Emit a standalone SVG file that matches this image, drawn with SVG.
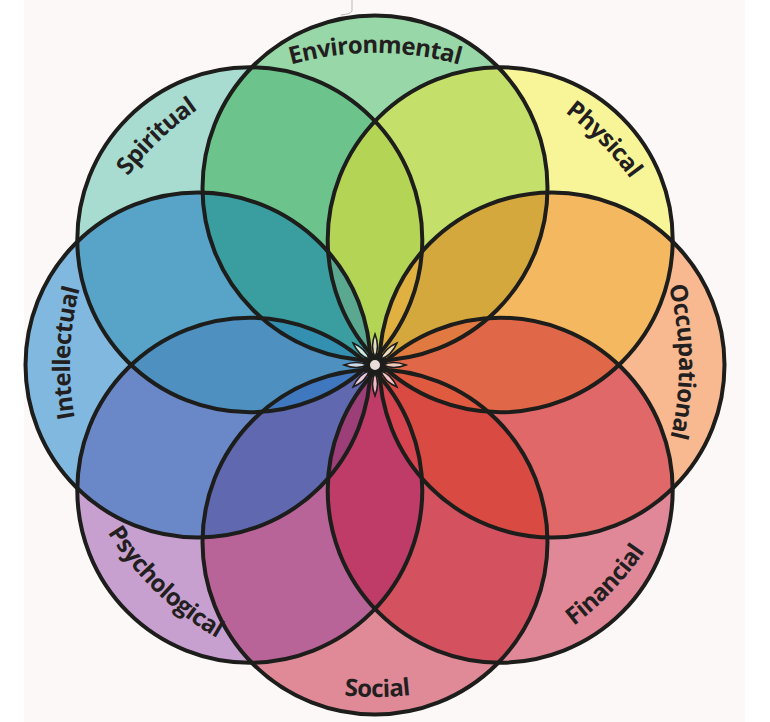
<svg xmlns="http://www.w3.org/2000/svg" width="770" height="722" viewBox="0 0 770 722">
  <defs>
    <style>
      .ring { fill: none; stroke: #1d1d1b; stroke-width: 4; }
      .spike { stroke: #1d1d1b; stroke-width: 1.6; }
      .lbl { font-family: "Open Sans", "Liberation Sans", sans-serif; font-weight: 700; font-size: 24px; letter-spacing: -0.6px; fill: #231f20; text-anchor: middle; }
    </style>
    <circle id="k0" cx="249.8" cy="239.8" r="172.5"/>
    <circle id="k1" cx="375" cy="188" r="172.5"/>
    <circle id="k2" cx="500.2" cy="239.8" r="172.5"/>
    <circle id="k3" cx="552" cy="365" r="172.5"/>
    <circle id="k4" cx="500.2" cy="490.2" r="172.5"/>
    <circle id="k5" cx="375" cy="542" r="172.5"/>
    <circle id="k6" cx="249.8" cy="490.2" r="172.5"/>
    <circle id="k7" cx="198" cy="365" r="172.5"/>
    <path id="sp" d="M8,0 Q18,-5 31,0 Q18,5 8,0Z"/>
    <clipPath id="c0"><use href="#k0"/></clipPath>
    <clipPath id="c1"><use href="#k1"/></clipPath>
    <clipPath id="c2"><use href="#k2"/></clipPath>
    <clipPath id="c3"><use href="#k3"/></clipPath>
    <clipPath id="c4"><use href="#k4"/></clipPath>
    <clipPath id="c5"><use href="#k5"/></clipPath>
    <clipPath id="c6"><use href="#k6"/></clipPath>
    <clipPath id="c7"><use href="#k7"/></clipPath>
    <path id="p-env" d="M136,164.4 A312,312 0 0 1 614,164.4"/>
    <path id="p-phy" d="M349.7,50 A316,316 0 0 1 689.6,394.7"/>
    <path id="p-occ" d="M567.6,129.8 A304,304 0 0 1 573.2,595.5"/>
    <path id="p-fin" d="M353.8,692.3 A328,328 0 0 0 701,329"/>
    <path id="p-soc" d="M122.2,580.2 A332,332 0 0 0 630.8,576.6"/>
    <path id="p-psy" d="M60.8,343 A314,314 0 0 0 407.9,678.3"/>
    <path id="p-int" d="M170.1,590.9 A305,305 0 0 1 187.9,124.1"/>
    <path id="p-spi" d="M64.6,385.1 A311,311 0 0 1 409.1,55.9"/>
  </defs>
  <rect x="0" y="0" width="770" height="722" fill="#ffffff"/>
  <rect x="24" y="0" width="721" height="722" fill="#fcf8f8"/>
  <path d="M352,0 L352,11 Q351,14 341,15" fill="none" stroke="#b8b8b8" stroke-width="1"/>

  <g id="spiritual"><use href="#k0" fill="#a8dcd0"/></g>
  <g id="environmental"><use href="#k1" fill="#98d8a8"/></g>
  <g id="physical"><use href="#k2" fill="#f8f498"/></g>
  <g id="occupational"><use href="#k3" fill="#f8b890"/></g>
  <g id="financial"><use href="#k4" fill="#e08898"/></g>
  <g id="social"><use href="#k5" fill="#e08a98"/></g>
  <g id="psychological"><use href="#k6" fill="#c8a0d0"/></g>
  <g id="intellectual"><use href="#k7" fill="#80b8e0"/></g>

  <g id="overlaps">
    <g clip-path="url(#c0)"><use href="#k1" fill="#6cc48c"/></g>
    <g clip-path="url(#c1)"><use href="#k2" fill="#c4e06a"/></g>
    <g clip-path="url(#c2)"><use href="#k3" fill="#f4b860"/></g>
    <g clip-path="url(#c3)"><use href="#k4" fill="#e06868"/></g>
    <g clip-path="url(#c4)"><use href="#k5" fill="#d45260"/></g>
    <g clip-path="url(#c5)"><use href="#k6" fill="#b86498"/></g>
    <g clip-path="url(#c6)"><use href="#k7" fill="#6a88c8"/></g>
    <g clip-path="url(#c7)"><use href="#k0" fill="#58a4c8"/></g>
    <g clip-path="url(#c7)"><g clip-path="url(#c1)"><use href="#k0" fill="#3a9ea0"/></g></g>
    <g clip-path="url(#c0)"><g clip-path="url(#c2)"><use href="#k1" fill="#b4d455"/></g></g>
    <g clip-path="url(#c1)"><g clip-path="url(#c3)"><use href="#k2" fill="#d4a83c"/></g></g>
    <g clip-path="url(#c2)"><g clip-path="url(#c4)"><use href="#k3" fill="#e06848"/></g></g>
    <g clip-path="url(#c3)"><g clip-path="url(#c5)"><use href="#k4" fill="#d84a42"/></g></g>
    <g clip-path="url(#c4)"><g clip-path="url(#c6)"><use href="#k5" fill="#c03c68"/></g></g>
    <g clip-path="url(#c5)"><g clip-path="url(#c7)"><use href="#k6" fill="#6068b0"/></g></g>
    <g clip-path="url(#c6)"><g clip-path="url(#c0)"><use href="#k7" fill="#4e90c0"/></g></g>
    <g clip-path="url(#c7)"><g clip-path="url(#c0)"><g clip-path="url(#c1)"><use href="#k2" fill="#5aa890"/></g></g></g>
    <g clip-path="url(#c0)"><g clip-path="url(#c1)"><g clip-path="url(#c2)"><use href="#k3" fill="#e0b040"/></g></g></g>
    <g clip-path="url(#c1)"><g clip-path="url(#c2)"><g clip-path="url(#c3)"><use href="#k4" fill="#e07a40"/></g></g></g>
    <g clip-path="url(#c2)"><g clip-path="url(#c3)"><g clip-path="url(#c4)"><use href="#k5" fill="#e05a40"/></g></g></g>
    <g clip-path="url(#c3)"><g clip-path="url(#c4)"><g clip-path="url(#c5)"><use href="#k6" fill="#d64450"/></g></g></g>
    <g clip-path="url(#c4)"><g clip-path="url(#c5)"><g clip-path="url(#c6)"><use href="#k7" fill="#9c3f78"/></g></g></g>
    <g clip-path="url(#c5)"><g clip-path="url(#c6)"><g clip-path="url(#c7)"><use href="#k0" fill="#4078c0"/></g></g></g>
    <g clip-path="url(#c6)"><g clip-path="url(#c7)"><g clip-path="url(#c0)"><use href="#k1" fill="#3490b0"/></g></g></g>
  </g>

  <g id="outlines">
    <use href="#k0" class="ring"/>
    <use href="#k1" class="ring"/>
    <use href="#k2" class="ring"/>
    <use href="#k3" class="ring"/>
    <use href="#k4" class="ring"/>
    <use href="#k5" class="ring"/>
    <use href="#k6" class="ring"/>
    <use href="#k7" class="ring"/>
  </g>

  <g id="center-star">
    <use href="#sp" class="spike" fill="#e6dcc2" transform="translate(375,365) rotate(-90)"/>
    <use href="#sp" class="spike" fill="#f0dcbc" transform="translate(375,365) rotate(-45)"/>
    <use href="#sp" class="spike" fill="#f0cabc" transform="translate(375,365) rotate(0)"/>
    <use href="#sp" class="spike" fill="#f0c2c2" transform="translate(375,365) rotate(45)"/>
    <use href="#sp" class="spike" fill="#eebcc6" transform="translate(375,365) rotate(90)"/>
    <use href="#sp" class="spike" fill="#e8c8d8" transform="translate(375,365) rotate(135)"/>
    <use href="#sp" class="spike" fill="#cddbe8" transform="translate(375,365) rotate(180)"/>
    <use href="#sp" class="spike" fill="#cfe8e2" transform="translate(375,365) rotate(225)"/>
    <circle cx="375" cy="365" r="6" fill="#e8dcd8" stroke="#1d1d1b" stroke-width="2"/>
  </g>

  <g id="labels">
    <text class="lbl"><textPath href="#p-env" startOffset="50%">Environmental</textPath></text>
    <text class="lbl"><textPath href="#p-phy" startOffset="50%">Physical</textPath></text>
    <text class="lbl"><textPath href="#p-occ" startOffset="50%">Occupational</textPath></text>
    <text class="lbl"><textPath href="#p-fin" startOffset="50%">Financial</textPath></text>
    <text class="lbl"><textPath href="#p-soc" startOffset="50%">Social</textPath></text>
    <text class="lbl"><textPath href="#p-psy" startOffset="50%">Psychological</textPath></text>
    <text class="lbl"><textPath href="#p-int" startOffset="50%">Intellectual</textPath></text>
    <text class="lbl"><textPath href="#p-spi" startOffset="50%">Spiritual</textPath></text>
  </g>
</svg>
